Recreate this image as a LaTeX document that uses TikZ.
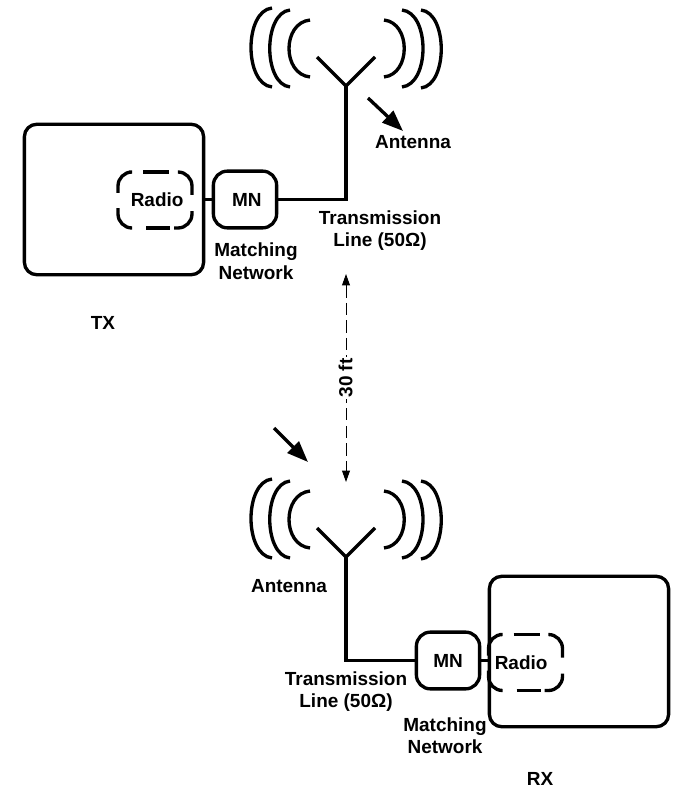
\documentclass[tikz,border=0pt]{standalone}
\usepackage{fontspec}
\setmainfont{Liberation Sans}
\usetikzlibrary{arrows.meta}
\tikzset{
    wire/.style={line width=1.9pt},
    lbl/.style={font=\bfseries\fontsize{10.8}{12.8}\selectfont, align=center, inner sep=0pt},
    devbox/.style={draw, line width=1.9pt, rounded corners=7pt, minimum width=102pt, minimum height=85.6pt, inner sep=0pt},
    mnbox/.style={draw, lbl, line width=1.9pt, rounded corners=8pt, minimum width=36pt, minimum height=32.3pt},
    radiobox/.style={minimum width=41.5pt, minimum height=31pt, inner sep=0pt},
    pointer/.style={line width=1.9pt, -{Triangle[length=12pt, width=9pt]}},
    span/.style={line width=0.5pt, dash pattern=on 7pt off 3pt, {Triangle[length=6.5pt, width=4.5pt]}-{Triangle[length=6.5pt, width=4.5pt]}}
}
\begin{document}
\begin{tikzpicture}[x=0.02cm, y=-0.02cm]
    \useasboundingbox (0,0) rectangle (685,797);

    % Antennas: top one, then the same shape moved down
    \foreach \dy/\name in {0/txant, 471/rxant} {
        \begin{scope}[shift={(0,\dy)}]
            \coordinate (\name) at (346,86);
            \draw[wire] (317,57) -- (\name) -- (375,57);
            \foreach \xa/\cx/\ya/\yb in {310/282/20/77, 290/263/10/87, 272/244/8/87, 384/411/20/77, 402/430/10/87, 421/448/10/88} {
                \draw[wire] (\xa,\ya) .. controls (\cx,\ya+3) and (\cx,\yb-3) .. (\xa,\yb);
            }
        \end{scope}
    }

    % Transmit side
    \node[devbox] (txbox) at (114,199.5) {};
    \node[radiobox, label={[lbl, xshift=1.2pt]center:Radio}] (txradio) at (155,200) {};
    \node[mnbox] (txmn) at (245,199.5) {\hspace{2pt}MN};
    \draw[wire] (txbox.east) -- (txmn.west);
    \draw[wire] (txmn.east) -| (txant);
    \node[lbl] (txmatch) at (256,261) {Matching\\Network};
    \node[lbl] (txline) at (380,230.5) {Transmission\\Line (50Ω)};
    \node[lbl] (txname) at (103,323) {TX};
    \node[lbl] (txlabel) at (413,142) {Antenna};
    \coordinate (txfrom) at (368,98);
    \coordinate (txto) at (403,131);
    \draw[pointer] (txfrom) -- (txto);

    % Receive side
    \node[devbox] (rxbox) at (579,651.5) {};
    \node[radiobox, label={[lbl, xshift=-2.5pt]center:Radio}] (rxradio) at (525.5,662.5) {};
    \node[mnbox] (rxmn) at (448,660.5) {MN};
    \draw[wire] (rxmn.east) -- (rxmn.east -| rxbox.west);
    \draw[wire] (rxmn.west) -| (rxant);
    \node[lbl] (rxmatch) at (445,735.5) {Matching\\Network};
    \node[lbl] (rxline) at (346,691.5) {Transmission\\Line (50Ω)};
    \node[lbl] (rxname) at (540,779) {RX};
    \node[lbl] (rxlabel) at (289,586) {Antenna};
    \coordinate (rxfrom) at (274,428);
    \coordinate (rxto) at (308,462);
    \draw[pointer] (rxfrom) -- (rxto);

    % Broken outline round each radio
    \foreach \radio in {txradio, rxradio} {
        \begin{scope}[shift={(\radio)}, wire, rounded corners=8pt]
            \draw (-37,-7) |- (-26,-28);
            \draw (-12,-28) -- (14,-28);
            \draw (23,-28) -| (37,-5);
            \draw (37,11) |- (19,28);
            \draw (-9,28) -- (15,28);
            \draw (-25,28) -| (-37,8);
        \end{scope}
    }

    % Distance between the two
    \coordinate (spantop) at (346,274);
    \coordinate (spanend) at (346,482);
    \draw[span] (spantop) -- (spanend);
    \node[lbl, rotate=90, fill=white, inner sep=1pt] (spanlabel) at (345.5,378) {30 ft};
\end{tikzpicture}
\end{document}
